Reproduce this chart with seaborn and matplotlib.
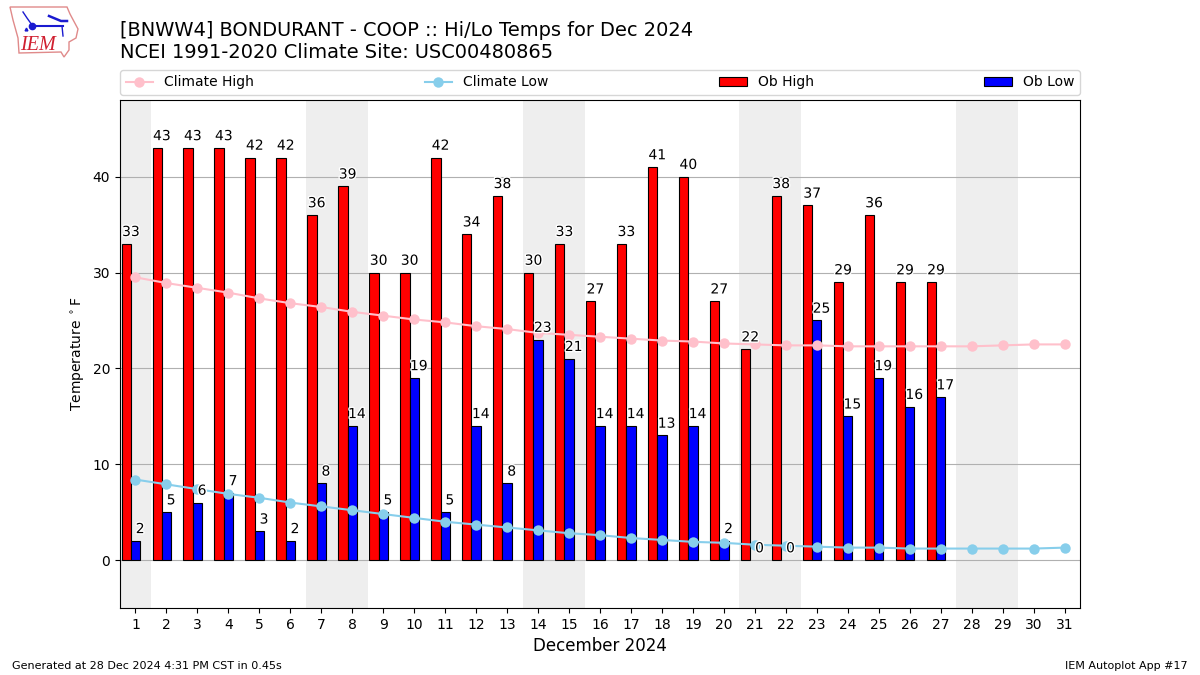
import numpy as np
import matplotlib
matplotlib.use("Agg")
import matplotlib.pyplot as plt
import matplotlib.patheffects as pe
from matplotlib.patches import Polygon
import seaborn as sns

TITLE = "[BNWW4] BONDURANT - COOP :: Hi/Lo Temps for Dec 2024\nNCEI 1991-2020 Climate Site: USC00480865"
FOOT_LEFT = "Generated at 28 Dec 2024 4:31 PM CST in 0.45s"
FOOT_RIGHT = "IEM Autoplot App #17"

days = list(range(1, 32))
obs_days = list(range(1, 28))
weekend_starts = [0.5, 6.5, 13.5, 20.5, 27.5]
weekend_ends = [1.5, 8.5, 15.5, 22.5, 29.5]

climate_high = [29.5, 28.9, 28.4, 27.9, 27.3, 26.8, 26.4, 25.9, 25.5, 25.1, 24.8,
                24.4, 24.1, 23.7, 23.5, 23.3, 23.1, 22.9, 22.8, 22.6, 22.5, 22.4,
                22.4, 22.3, 22.3, 22.3, 22.3, 22.3, 22.4, 22.5, 22.5]
climate_low = [8.4, 7.9, 7.4, 6.9, 6.5, 6.0, 5.6, 5.2, 4.8, 4.4, 4.0,
               3.7, 3.4, 3.1, 2.8, 2.6, 2.3, 2.1, 1.9, 1.8, 1.6, 1.5,
               1.4, 1.3, 1.3, 1.2, 1.2, 1.2, 1.2, 1.2, 1.3]
ob_high = [33, 43, 43, 43, 42, 42, 36, 39, 30, 30, 42, 34, 38, 30, 33, 27, 33, 41, 40,
           27, 22, 38, 37, 29, 36, 29, 29]
ob_low = [2, 5, 6, 7, 3, 2, 8, 14, 5, 19, 5, 14, 8, 23, 21, 14, 14, 13, 14,
          2, 0, 0, 25, 15, 19, 16, 17]

# rough trace of the Iowa logo, in pixels of the logo box
logo_outline = [(10, 7), (67, 7), (70, 14), (78, 29), (76, 38), (69, 42), (69, 50),
                (64, 57), (61, 52), (19, 53), (18, 38), (13, 20)]
logo_wire_x = [32, 63]
logo_wire_y = [26, 26]

fig = plt.figure(figsize=(12, 6.75), dpi=100)
ax = fig.add_axes([120 / 1200, 1 - 608 / 675, 960 / 1200, 508 / 675])

for start, end in zip(weekend_starts, weekend_ends):
    ax.axvspan(start, end, color="#eeeeee", lw=0, zorder=0)

ax.grid(axis="y", color="#b0b0b0", lw=0.8, zorder=1)
ax.set_axisbelow(True)

# zero lows get a label but no bar, otherwise the edge draws a black line
low_bars = np.array(ob_low, dtype=float)
low_bars[low_bars == 0] = np.nan

sns.barplot(x=np.array(obs_days) - 0.3, y=ob_high, native_scale=True, width=0.3,
            color="red", saturation=1, edgecolor="k", linewidth=0.8,
            label="Ob High", ax=ax, zorder=2)
sns.barplot(x=np.array(obs_days, dtype=float), y=low_bars, native_scale=True, width=0.3,
            color="blue", saturation=1, edgecolor="k", linewidth=0.8,
            label="Ob Low", ax=ax, zorder=2)
sns.lineplot(x=days, y=climate_high, color="pink", marker="o", markersize=7.5,
             markeredgewidth=0, lw=1.5, label="Climate High", ax=ax, zorder=3)
sns.lineplot(x=days, y=climate_low, color="skyblue", marker="o", markersize=7.5,
             markeredgewidth=0, lw=1.5, label="Climate Low", ax=ax, zorder=3)

halo = [pe.withStroke(linewidth=2, foreground="white")]
for d, h, l in zip(obs_days, ob_high, ob_low):
    ax.text(d - 0.15, h + 0.5, str(h), ha="center", va="bottom", fontsize=10,
            color="k", path_effects=halo, zorder=4)
    ax.text(d + 0.15, l + 0.5, str(l), ha="center", va="bottom", fontsize=10,
            color="k", path_effects=halo, zorder=4)

ax.set_xlim(0.5, 31.5)
ax.set_ylim(-5, 48)
ax.set_xticks(days)
ax.set_xticklabels([str(d) for d in days])
ax.set_yticks([0, 10, 20, 30, 40])
ax.tick_params(labelsize=10)
ax.set_xlabel("December 2024", fontsize=12, labelpad=4)
ax.set_ylabel(r"Temperature $^\circ$F", fontsize=10)

handles, labels = ax.get_legend_handles_labels()
by_label = dict(zip(labels, handles))
order = ["Climate High", "Climate Low", "Ob High", "Ob Low"]
ax.legend([by_label[k] for k in order], order, loc="lower left", ncol=4, mode="expand",
          bbox_to_anchor=(0, 1.01, 1, 0.05), fontsize=10, borderaxespad=0)

fig.text(120 / 1200, 1 - 62 / 675, TITLE, fontsize=13.98, ha="left", va="bottom", linespacing=1.17)
fig.text(12 / 1200, 1 - 666 / 675, FOOT_LEFT, fontsize=8, ha="left", va="center")
fig.text(1188 / 1200, 1 - 666 / 675, FOOT_RIGHT, fontsize=8, ha="right", va="center")

# logo drawn in pixel coordinates
logo = fig.add_axes([0, 1 - 60 / 675, 80 / 1200, 60 / 675])
logo.set_xlim(0, 80)
logo.set_ylim(60, 0)
logo.axis("off")
logo.add_patch(Polygon(logo_outline, closed=True, fill=False, edgecolor="#e08a8a", lw=1))
logo.plot(logo_wire_x, logo_wire_y, color="#1a1ad0", lw=1.5)
logo.plot([32], [26], "o", color="#1a1ad0", ms=4.5)
logo.plot([49, 61, 67], [16, 21, 21], color="#1a1ad0", lw=1.8)
logo.plot([23, 27, 32], [12, 18, 25], color="#1a1ad0", lw=1)
logo.plot([62, 63], [26, 36], color="#1a1ad0", lw=1)
logo.plot([26], [29], "^", color="#1a1ad0", ms=2)
logo.text(38, 45, "IEM", color="#d02030", fontsize=14.5, family="Liberation Serif",
          style="italic", ha="center", va="center")

fig.savefig("out.png", dpi=100)
